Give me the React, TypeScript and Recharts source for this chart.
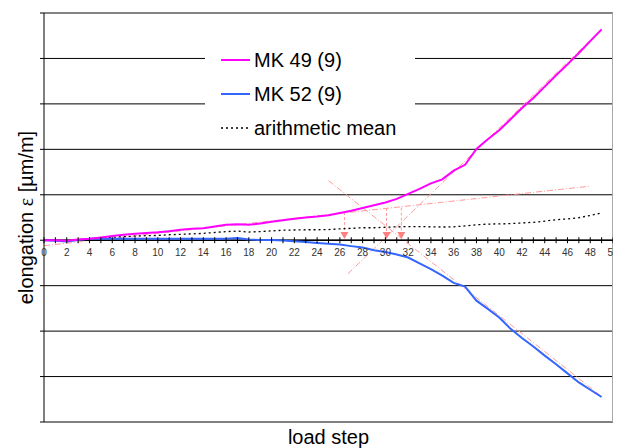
import React from 'react';
import {
  LineChart,
  Line,
  XAxis,
  YAxis,
  CartesianGrid,
  ReferenceLine,
  ReferenceDot,
  Legend,
} from 'recharts';

// load steps 0..49
const steps = [
  0, 1, 2, 3, 4, 5, 6, 7, 8, 9, 10, 11, 12, 13, 14, 15, 16, 17, 18, 19, 20, 21, 22, 23, 24,
  25, 26, 27, 28, 29, 30, 31, 32, 33, 34, 35, 36, 37, 38, 39, 40, 41, 42, 43, 44, 45, 46, 47, 48, 49,
];

const mk49 = [
  0, 0, -1, 1.5, 3, 6, 9.5, 12, 14, 16, 17.5, 20, 23, 25, 26.5, 30, 34, 35, 34, 37, 40.5, 44, 47, 50, 52,
  55, 60, 65, 71, 77, 83, 91, 102, 113, 125, 134, 153, 166, 201, 222, 242, 266, 291, 313, 338, 363, 387, 412, 438, 464,
];

const mk52 = [
  0, -1, -3, 0.5, 3, 3.5, 3.5, 3.5, 3.5, 3.5, 3.5, 3.5, 3.5, 3.5, 3.5, 3.5, 3.5, 5, 1.5, 0.5, 0.5, -0.5, -2, -4, -6,
  -8, -9.5, -13, -16, -22, -26, -31.5, -38, -51, -63.5, -78, -94, -102, -133, -151, -170, -195, -215, -234, -254, -273, -293, -313, -329, -345,
];

const mean = [
  0, -0.5, -2, 1, 3, 5, 6.5, 8, 9, 10, 10.5, 12, 13, 14, 15, 17, 19, 20, 18, 19, 20.5, 22, 22.5, 23, 23,
  23.5, 25, 26, 27.5, 27.5, 28.5, 29.5, 30, 30, 29.5, 29, 29.5, 31.5, 34, 35.5, 36, 36.5, 38, 39.5, 42, 45, 47, 49.5, 54.5, 60,
];

const xTicks = [
  0, 1, 2, 3, 4, 5, 6, 7, 8, 9, 10, 11, 12, 13, 14, 15, 16, 17, 18, 19, 20, 21, 22, 23, 24, 25,
  26, 27, 28, 29, 30, 31, 32, 33, 34, 35, 36, 37, 38, 39, 40, 41, 42, 43, 44, 45, 46, 47, 48, 49, 50,
];
const xLabels = [0, 2, 4, 6, 8, 10, 12, 14, 16, 18, 20, 22, 24, 26, 28, 30, 32, 34, 36, 38, 40, 42, 44, 46, 48, 50];
const yTicks = [-400, -300, -200, -100, 0, 100, 200, 300, 400, 500];

// tangent construction lines (data units)
const tangentFlat = [{ x: 0, y: -12 }, { x: 48, y: 119 }];
const tangent49 = [{ x: 26.7, y: -74 }, { x: 49, y: 464 }];
const tangent52 = [{ x: 25, y: 131 }, { x: 49, y: -344 }];
const arrowSteps = [26.4, 30.1, 31.4];
const arrowTops = [62, 71, 72];

const seriesInfo = [
  { key: 'mk49', name: 'MK 49 (9)', color: '#ff00ff', dash: undefined as string | undefined, width: 2 },
  { key: 'mk52', name: 'MK 52 (9)', color: '#3366ff', dash: undefined as string | undefined, width: 2 },
  { key: 'mean', name: 'arithmetic mean', color: '#000000', dash: '2 3', width: 1.3 },
];

const data = steps.map((s, i) => ({ step: s, mk49: mk49[i], mk52: mk52[i], mean: mean[i] }));

const CHART_W = 613;
const CHART_H = 440;
const MARGIN = { top: 5, right: 8, bottom: 0, left: 0 };
const X_AXIS_H = 26;
const Y_MIN = -400;
const Y_MAX = 500;
const PLOT_H = CHART_H - MARGIN.top - MARGIN.bottom - X_AXIS_H;
const ZERO_OFFSET = (PLOT_H * (0 - Y_MIN)) / (Y_MAX - Y_MIN);

const TANGENT_COLOR = '#ff9a9a';

// x ticks drawn on the zero line instead of the bottom edge
const ZeroTick = ({ x, y, payload }: any) => {
  const y0 = y - ZERO_OFFSET;
  const v = payload.value;
  return (
    <g>
      <line x1={x} x2={x} y1={y0 - 3} y2={y0 + 3} stroke="#000" strokeWidth={1} />
      {xLabels.includes(v) && (
        <text x={x} y={y0 + 16} textAnchor="middle" fontSize={10} fill="#333">
          {v}
        </text>
      )}
    </g>
  );
};

const YLabel = ({ viewBox }: any) => {
  const cx = viewBox.x + viewBox.width / 2 + 7;
  const cy = viewBox.y + viewBox.height / 2;
  return (
    <text x={cx} y={cy} transform={`rotate(-90 ${cx} ${cy})`} textAnchor="middle" fontSize={20} fill="#000">
      elongation <tspan fontFamily='"Liberation Serif", serif'>ε</tspan> [µm/m]
    </text>
  );
};

const Triangle = ({ cx, cy }: any) => (
  <path d={`M${cx - 4},${cy - 7} L${cx + 4},${cy - 7} L${cx},${cy} Z`} fill="#ff8080" />
);

const LegendBox = () => (
  <div style={{ background: '#fff', width: 210, height: 105, paddingTop: 3, boxSizing: 'border-box' }}>
    {seriesInfo.map((s) => (
      <div key={s.key} style={{ display: 'flex', alignItems: 'center', height: 34 }}>
        <svg width={45} height={10} style={{ display: 'block' }}>
          <line x1={16} x2={45} y1={5} y2={5} stroke={s.color} strokeWidth={s.width} strokeDasharray={s.dash} />
        </svg>
        <span style={{ fontSize: 20, color: '#000', marginLeft: 4, whiteSpace: 'nowrap' }}>{s.name}</span>
      </div>
    ))}
  </div>
);

export default function App() {
  return (
    <div style={{ fontFamily: '"Liberation Sans", Arial, sans-serif' }}>
      <LineChart width={CHART_W} height={CHART_H} data={data} margin={MARGIN}>
        <CartesianGrid horizontal vertical={false} stroke="#000" />
        <XAxis
          dataKey="step"
          type="number"
          domain={[0, 50]}
          ticks={xTicks}
          interval={0}
          height={X_AXIS_H}
          axisLine={false}
          tickLine={false}
          tickSize={0}
          tickMargin={0}
          tick={<ZeroTick />}
          label={{ value: 'load step', position: 'center', dy: 2, fontSize: 20, fill: '#000' }}
        />
        <YAxis
          type="number"
          domain={[Y_MIN, Y_MAX]}
          ticks={yTicks}
          interval={0}
          width={36}
          stroke="#000"
          tickSize={4}
          tickFormatter={() => ''}
          label={<YLabel />}
        />
        <ReferenceLine y={Y_MAX} stroke="#888" strokeWidth={1} />
        <ReferenceLine x={50} stroke="#aaa" strokeWidth={2} />
        <ReferenceLine segment={tangentFlat} stroke={TANGENT_COLOR} strokeDasharray="6 2 1 2" />
        <ReferenceLine segment={tangent49} stroke={TANGENT_COLOR} strokeDasharray="6 2 1 2" />
        <ReferenceLine segment={tangent52} stroke={TANGENT_COLOR} strokeDasharray="6 2 1 2" />
        {arrowSteps.map((s, i) => (
          <ReferenceLine
            key={'a' + i}
            segment={[{ x: s, y: arrowTops[i] }, { x: s, y: 15 }]}
            stroke={TANGENT_COLOR}
            strokeDasharray="3 2"
          />
        ))}
        {arrowSteps.map((s, i) => (
          <ReferenceDot key={'t' + i} x={s} y={2.5} r={4} shape={<Triangle />} />
        ))}
        <ReferenceLine y={0} stroke="#000" strokeWidth={1.5} />
        <Line
          dataKey="mean"
          name="arithmetic mean"
          stroke="#000"
          strokeWidth={1.3}
          strokeDasharray="2 3"
          dot={false}
          isAnimationActive={false}
        />
        <Line dataKey="mk52" name="MK 52 (9)" stroke="#3366ff" strokeWidth={2} dot={false} isAnimationActive={false} />
        <Line dataKey="mk49" name="MK 49 (9)" stroke="#ff00ff" strokeWidth={2} dot={false} isAnimationActive={false} />
        <Legend
          layout="horizontal"
          verticalAlign="middle"
          align="center"
          content={<LegendBox />}
          wrapperStyle={{ left: 197, top: 32, width: 210, height: 105 }}
        />
      </LineChart>
    </div>
  );
}
